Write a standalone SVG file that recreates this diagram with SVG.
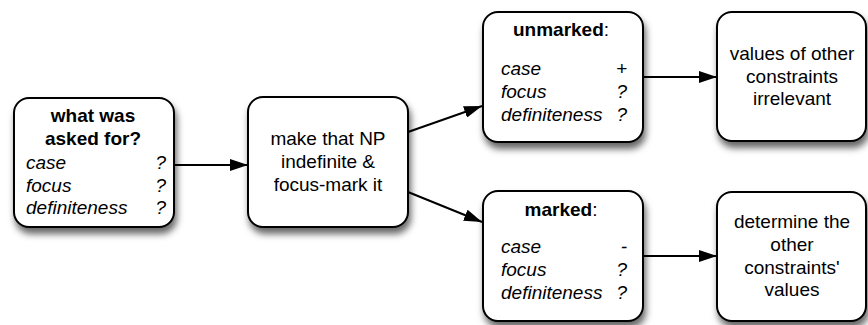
<svg xmlns="http://www.w3.org/2000/svg" width="868" height="325" viewBox="0 0 868 325">
  <defs>
    <filter id="shadow" x="-20%" y="-20%" width="140%" height="150%">
      <feDropShadow dx="2" dy="6" stdDeviation="3.5" flood-color="#000" flood-opacity="0.6"/>
    </filter>
    <marker id="arrow" viewBox="0 0 18 12" refX="18" refY="6" markerWidth="18" markerHeight="12" markerUnits="userSpaceOnUse" orient="auto">
      <path d="M0,0 L18,6 L0,12 Z" fill="#000"/>
    </marker>
    <style>
      .box { fill: #fff; stroke: #000; stroke-width: 2; filter: url(#shadow); }
      text { font-family: "Liberation Sans", Arial, sans-serif; font-size: 19px; fill: #000; }
      .c { text-anchor: middle; }
      .b { font-weight: bold; }
      .i { font-style: italic; }
      .r { text-anchor: end; font-style: italic; }
      .edge { stroke: #000; stroke-width: 2; fill: none; marker-end: url(#arrow); }
    </style>
  </defs>

  <g id="connectors">
    <line class="edge" x1="174" y1="165" x2="248" y2="165"/>
    <line class="edge" x1="408" y1="132" x2="482" y2="106"/>
    <line class="edge" x1="408" y1="192" x2="482" y2="222"/>
    <line class="edge" x1="643" y1="77" x2="717" y2="77"/>
    <line class="edge" x1="643" y1="256" x2="717" y2="256"/>
  </g>

  <g id="asked">
    <rect class="box" x="14" y="98" width="160" height="129" rx="15"/>
    <text class="c b" x="93" y="122">what was</text>
    <text class="c b" x="93" y="145">asked for?</text>
    <text class="i" x="26" y="169">case</text>
    <text class="r" x="166" y="169">?</text>
    <text class="i" x="26" y="192">focus</text>
    <text class="r" x="166" y="192">?</text>
    <text class="i" x="26" y="214">definiteness</text>
    <text class="r" x="166" y="214">?</text>
  </g>

  <g id="make-np">
    <rect class="box" x="248" y="97" width="160" height="130" rx="15"/>
    <text class="c" x="328" y="145">make that NP</text>
    <text class="c" x="328" y="168">indefinite &amp;</text>
    <text class="c" x="328" y="191">focus-mark it</text>
  </g>

  <g id="unmarked">
    <rect class="box" x="483" y="12" width="160" height="130" rx="15"/>
    <text class="c" x="561" y="36"><tspan class="b">unmarked</tspan>:</text>
    <text class="i" x="501" y="75">case</text>
    <text class="r" x="627" y="75">+</text>
    <text class="i" x="501" y="98">focus</text>
    <text class="r" x="627" y="98">?</text>
    <text class="i" x="501" y="121">definiteness</text>
    <text class="r" x="627" y="121">?</text>
  </g>

  <g id="irrelevant">
    <rect class="box" x="717" y="12" width="149" height="129" rx="15"/>
    <text class="c" x="792" y="60">values of other</text>
    <text class="c" x="792" y="83">constraints</text>
    <text class="c" x="792" y="105">irrelevant</text>
  </g>

  <g id="marked">
    <rect class="box" x="483" y="191" width="160" height="130" rx="15"/>
    <text class="c" x="561" y="216"><tspan class="b">marked</tspan>:</text>
    <text class="i" x="501" y="253">case</text>
    <text class="r" x="627" y="253">-</text>
    <text class="i" x="501" y="276">focus</text>
    <text class="r" x="627" y="276">?</text>
    <text class="i" x="501" y="299">definiteness</text>
    <text class="r" x="627" y="299">?</text>
  </g>

  <g id="determine">
    <rect class="box" x="717" y="192" width="149" height="129" rx="15"/>
    <text class="c" x="792" y="228">determine the</text>
    <text class="c" x="792" y="251">other</text>
    <text class="c" x="792" y="274">constraints'</text>
    <text class="c" x="792" y="296">values</text>
  </g>
</svg>
